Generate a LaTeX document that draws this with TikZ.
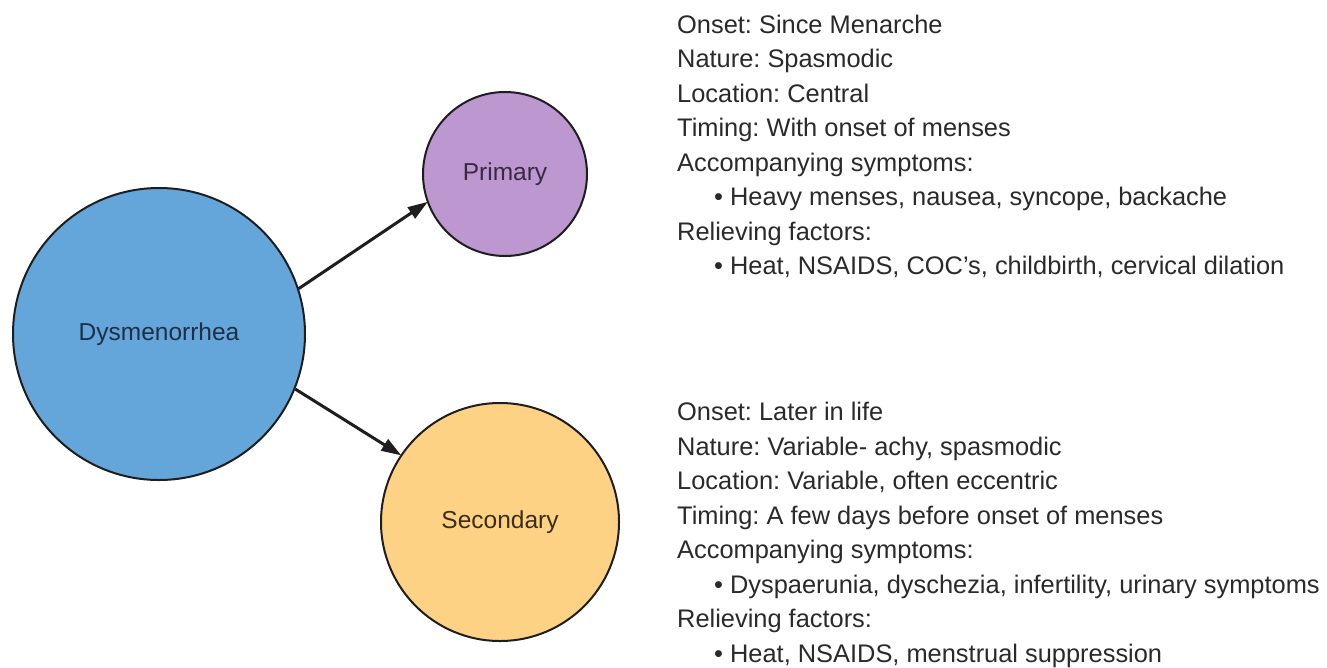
\documentclass[tikz,border=0pt]{standalone}
\usepackage{fontspec}
\setmainfont{Liberation Sans}
\usetikzlibrary{arrows.meta}
\definecolor{dysblue}{HTML}{64A5DA}
\definecolor{primpurple}{HTML}{BD97D0}
\definecolor{secorange}{HTML}{FED284}
\definecolor{dystext}{HTML}{1E3046}
\definecolor{primtext}{HTML}{3A2846}
\definecolor{sectext}{HTML}{3A2E18}
\definecolor{bodytext}{HTML}{2A2A2A}
\definecolor{edge}{HTML}{1E1E1E}
\frenchspacing
\tikzset{
  bubble/.style={circle, draw=edge, line width=2pt, inner sep=0pt,
    font=\fontsize{24.5pt}{29pt}\selectfont},
  txt/.style={anchor=base west, inner sep=0pt, text=bodytext,
    font=\fontsize{25.4pt}{30pt}\selectfont},
  conn/.style={line width=3pt, draw=edge, -{Triangle[length=20pt,width=13pt]}, shorten >=-1pt}
}
\begin{document}
\begin{tikzpicture}[x=1pt,y=-1pt]
\useasboundingbox (0,0) rectangle (1327,667);
\fill[white] (0,0) rectangle (1327,667);

\node[bubble, fill=dysblue, text=dystext, minimum size=292pt] (dys) at (159,334) {Dysmenorrhea};
\node[bubble, fill=primpurple, text=primtext, minimum size=164pt] (pri) at (505,174) {Primary};
\node[bubble, fill=secorange, text=sectext, minimum size=238pt] (sec) at (500,522) {Secondary};

\draw[conn] (dys.18) -- (pri.200);
\draw[conn] (dys.-22) -- (sec.146);

% Primary characteristics
\node[txt] (p1) at (677,33) {Onset: Since Menarche};
\node[txt] (p2) at (677,67.5) {Nature: Spasmodic};
\node[txt] (p3) at (677,102) {Location: Central};
\node[txt] (p4) at (677,136.5) {Timing: With onset of menses};
\node[txt] (p5) at (677,171) {Accompanying symptoms:};
\node[txt] (p6) at (714,205.5) {\textbullet\ Heavy menses, nausea, syncope, backache};
\node[txt] (p7) at (677,240) {Relieving factors:};
\node[txt] (p8) at (714,274.5) {\textbullet\ Heat, NSAIDS, COC’s, childbirth, cervical dilation};

% Secondary characteristics
\node[txt] (s1) at (677,420.5) {Onset: Later in life};
\node[txt] (s2) at (677,455) {Nature: Variable- achy, spasmodic};
\node[txt] (s3) at (677,489.5) {Location: Variable, often eccentric};
\node[txt] (s4) at (677,524) {Timing: A few days before onset of menses};
\node[txt] (s5) at (677,558.5) {Accompanying symptoms:};
\node[txt] (s6) at (714,593) {\textbullet\ Dyspaerunia, dyschezia, infertility, urinary symptoms};
\node[txt] (s7) at (677,627.5) {Relieving factors:};
\node[txt] (s8) at (714,662) {\textbullet\ Heat, NSAIDS, menstrual suppression};
\end{tikzpicture}
\end{document}
